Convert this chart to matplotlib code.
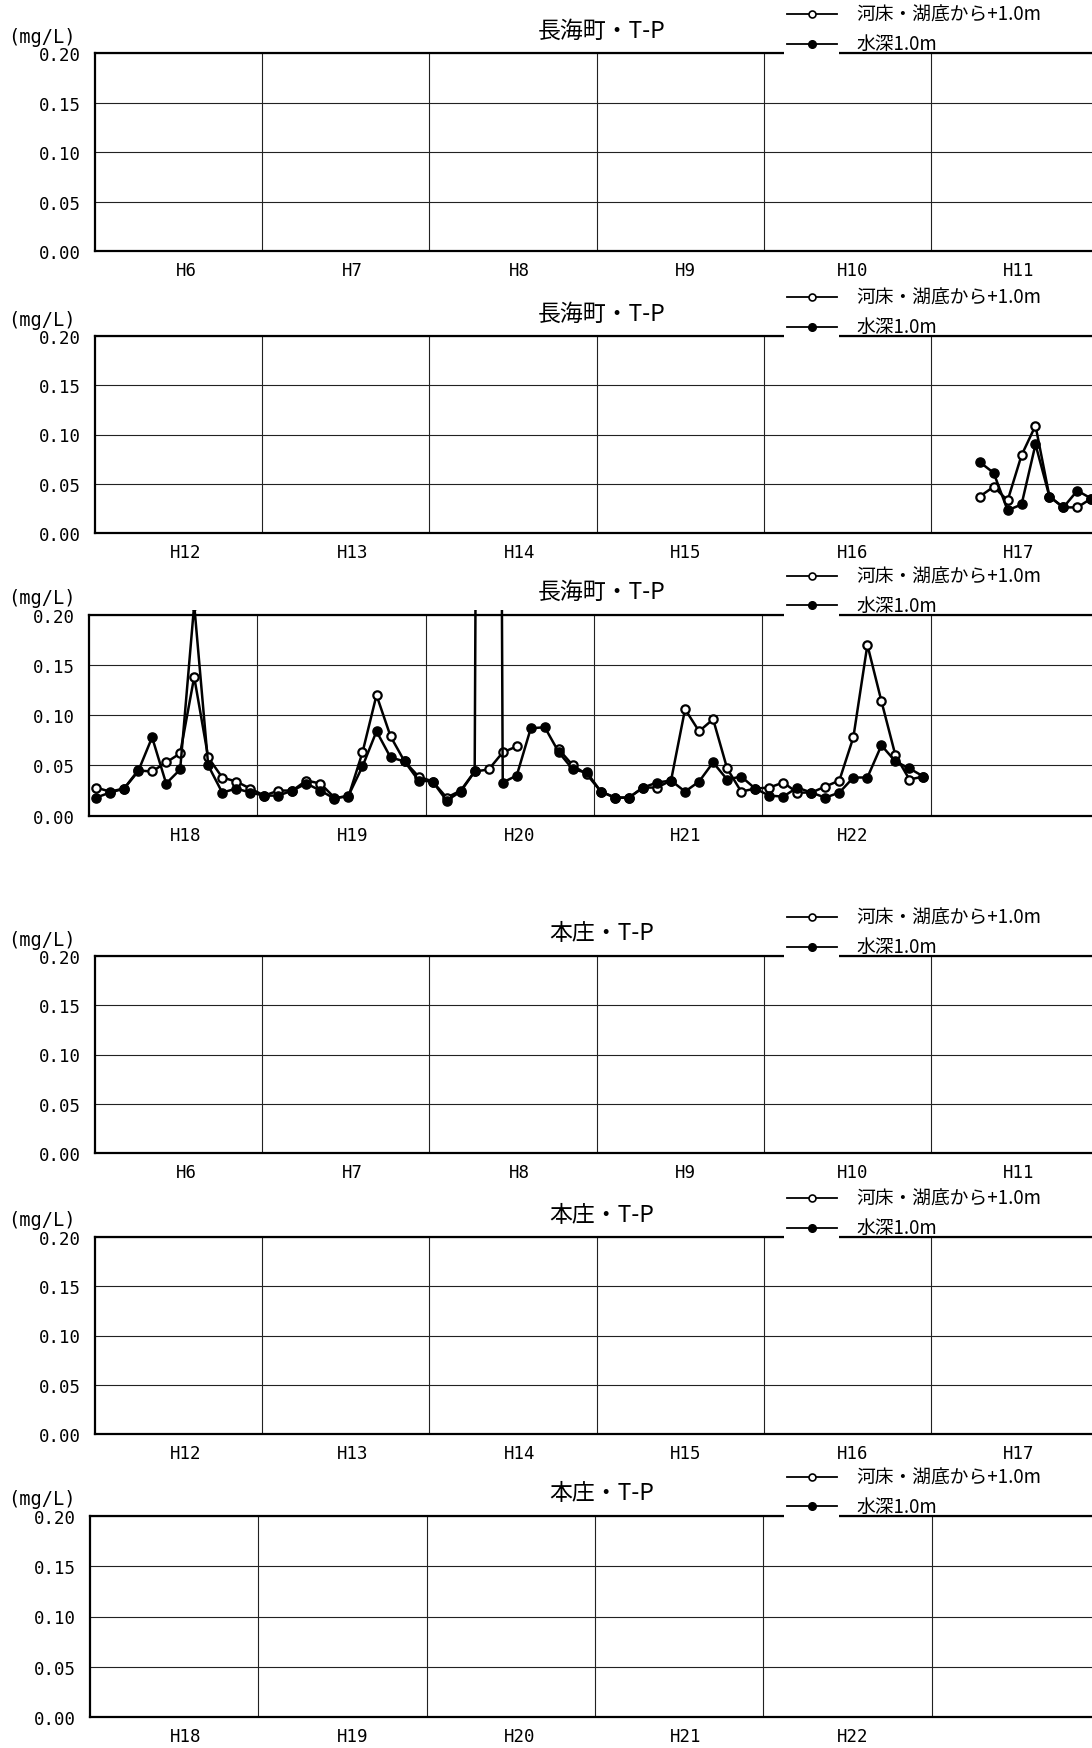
import numpy as np
import matplotlib.pyplot as plt
import matplotlib.transforms as mtransforms
from matplotlib.lines import Line2D
from matplotlib.patches import Rectangle

# 図のサイズ (px)
W, H = 1092, 1749
DPI = 100

CJK = ['Noto Sans CJK JP', 'DejaVu Sans']
MONO = ['DejaVu Sans Mono']

nan = np.nan

# --- データ ---
titles = ['長海町・T-P', '長海町・T-P', '長海町・T-P', '本庄・T-P', '本庄・T-P', '本庄・T-P']
year_labels = [
    ['H6', 'H7', 'H8', 'H9', 'H10', 'H11'],
    ['H12', 'H13', 'H14', 'H15', 'H16', 'H17'],
    ['H18', 'H19', 'H20', 'H21', 'H22', ''],
    ['H6', 'H7', 'H8', 'H9', 'H10', 'H11'],
    ['H12', 'H13', 'H14', 'H15', 'H16', 'H17'],
    ['H18', 'H19', 'H20', 'H21', 'H22', ''],
]
legend_labels = ['河床・湖底から+1.0m', '水深1.0m']
y_ticks = [0.00, 0.05, 0.10, 0.15, 0.20]

# 長海町 H17 (4月始まりの4番目の月から)
nagaumi_h17_bottom = [0.037, 0.047, 0.033, 0.079, 0.109, 0.037, 0.026, 0.026, 0.035]
nagaumi_h17_surface = [0.072, 0.061, 0.023, 0.029, 0.090, 0.037, 0.026, 0.043, 0.035]
h17_start = 3

# 長海町 H18〜H22 (月別)
nagaumi_h18_bottom = [
    0.028, 0.024, 0.027, 0.045, 0.044, 0.053, 0.062, 0.138, 0.058, 0.038, 0.034, 0.027,
    0.020, 0.025, 0.025, 0.035, 0.032, 0.018, 0.019, 0.063, 0.120, 0.079, 0.054, 0.039,
    0.034, 0.018, 0.025, 0.044, 0.046, 0.063, 0.069, nan, nan, 0.066, 0.050, 0.041,
    0.024, 0.018, 0.018, 0.028, 0.028, 0.035, 0.106, 0.084, 0.096, 0.047, 0.024, 0.027,
    0.028, 0.033, 0.023, 0.023, 0.029, 0.035, 0.078, 0.170, 0.114, 0.060, 0.036, 0.039,
]
nagaumi_h18_surface = [
    0.018, 0.023, 0.027, 0.044, 0.078, 0.032, 0.046, 0.210, 0.050, 0.023, 0.027, 0.023,
    0.020, 0.020, 0.025, 0.032, 0.025, 0.017, 0.020, 0.049, 0.084, 0.058, 0.054, 0.035,
    0.034, 0.015, 0.024, 0.044, 3.000, 0.033, 0.040, 0.087, 0.088, 0.063, 0.046, 0.043,
    0.024, 0.018, 0.018, 0.028, 0.033, 0.035, 0.024, 0.034, 0.053, 0.036, 0.039, 0.027,
    0.020, 0.019, 0.028, 0.023, 0.018, 0.023, 0.038, 0.038, 0.070, 0.054, 0.047, 0.039,
]

n_months = 72
empty = [nan] * n_months
p2_bottom = [nan] * 60 + [nan] * h17_start + nagaumi_h17_bottom
p2_surface = [nan] * 60 + [nan] * h17_start + nagaumi_h17_surface
p3_bottom = nagaumi_h18_bottom + [nan] * 12
p3_surface = nagaumi_h18_surface + [nan] * 12

series = [
    (empty, empty),
    (p2_bottom, p2_surface),
    (p3_bottom, p3_surface),
    (empty, empty),
    (empty, empty),
    (empty, empty),
]

# パネル位置 (left, top, bottom, 1年の幅) px
layout = [
    (95, 54.3, 252.3, 167.2),
    (95, 337.0, 534.0, 167.2),
    (89, 615.7, 816.7, 168.3),
    (95, 957.0, 1154.0, 167.2),
    (95, 1238.0, 1435.0, 167.2),
    (90, 1516.7, 1718.3, 168.3),
]


def fx(px):
    return px / W


def fy(py):
    return 1 - py / H


fig = plt.figure(figsize=(W / DPI, H / DPI), dpi=DPI)
x = np.arange(n_months) + 0.5

for k in range(6):
    left, top, bottom, yw = layout[k]
    right = left + 6 * yw
    ax = fig.add_axes([fx(left), fy(bottom), (right - left) / W, (bottom - top) / H])
    ax.set_xlim(0, n_months)
    ax.set_ylim(0, 0.2)

    # 目盛・グリッド
    ax.set_yticks(y_ticks)
    ax.set_yticklabels([f'{v:.2f}' for v in y_ticks], family=MONO, fontsize=12.5)
    ax.set_xticks(np.arange(12, n_months, 12))
    ax.set_xticklabels([])
    ax.tick_params(axis='both', length=0)
    ax.tick_params(axis='y', pad=10)
    ax.grid(True, color='#222222', lw=0.8)
    ax.set_axisbelow(True)
    for s in ax.spines.values():
        s.set_linewidth(1.6)

    # 年ラベル
    off = mtransforms.offset_copy(ax.get_xaxis_transform(), fig=fig, y=-19, units='dots')
    for j, lab in enumerate(year_labels[k]):
        px = 186 + 166.6 * j
        xd = (px - left) / yw * 12
        ax.text(xd, 0, lab, transform=off, ha='center', va='center',
                family=MONO, fontsize=12.5)

    # データ
    bottom_v, surface_v = series[k]
    clip = Rectangle((0, 0), n_months, 0.2045, transform=ax.transData)
    l1, = ax.plot(x, bottom_v, '-o', color='k', lw=1.8, ms=6.0,
                  mfc='white', mec='k', mew=1.6)
    l2, = ax.plot(x, surface_v, '-o', color='k', lw=1.8, ms=6.6, mfc='k', mec='k')
    l1.set_clip_path(clip)
    l2.set_clip_path(clip)

    # タイトル・単位
    fig.text(fx(602), fy(top - 23), titles[k], ha='center', va='center',
             fontsize=16.5, family=CJK)
    fig.text(fx(8), fy(top - 17), '(mg/L)', ha='left', va='center',
             family=MONO, fontsize=13.5)

    # 凡例
    fig.add_artist(Rectangle((fx(784), fy(top + 2)), (839 - 784) / W, 14 / H,
                             transform=fig.transFigure, facecolor='white',
                             edgecolor='none', zorder=5))
    for r, lab in enumerate(legend_labels):
        yy = top - 39 + r * 29.5
        fig.add_artist(Line2D([fx(787), fx(837)], [fy(yy), fy(yy)], color='k',
                              lw=1.3, zorder=6))
        if r == 0:
            mk = dict(marker='o', ms=5.0, mfc='white', mec='k', mew=1.2)
        else:
            mk = dict(marker='o', ms=5.5, mfc='k', mec='k')
        fig.add_artist(Line2D([fx(812)], [fy(yy)], ls='none', zorder=7, **mk))
        fig.text(fx(856), fy(yy), lab, ha='left', va='center', fontsize=13.5,
                 family=CJK, zorder=7)

fig.savefig('out.png', dpi=DPI)
